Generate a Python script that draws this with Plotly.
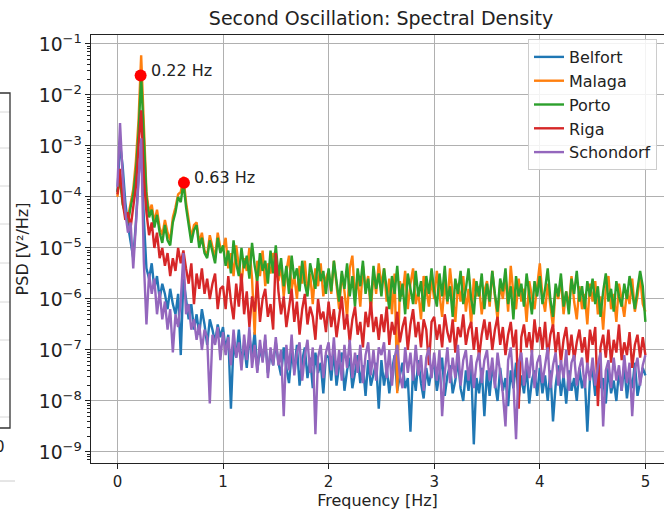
import math
import plotly.graph_objects as go

# Frequency axis: 0 .. 5 Hz, step 0.025 Hz (201 bins)
freq_step = 0.025
n_bins = 201
freqs = [round(i * freq_step, 4) for i in range(n_bins)]

series_names = ["Belfort", "Malaga", "Porto", "Riga", "Schondorf"]
series_colors = ["#1f77b4", "#ff7f0e", "#2ca02c", "#d62728", "#9467bd"]

# log10(PSD [V^2/Hz])
belfort_log10 = [
    -3.90, -2.95, -3.40, -4.10, -4.55, -4.90, -5.20, -4.50, -3.60, -3.00, -4.40, -5.40, -5.60, -5.30, -5.80, -5.55, -6.00, -5.70, -5.90, -6.20,
    -5.80, -6.10, -6.30, -5.90, -7.10, -5.60, -6.00, -6.40, -6.10, -6.60, -6.30, -6.70, -6.20, -6.50, -6.90, -6.40, -6.60, -6.85, -6.50, -6.75,
    -6.55, -7.00, -6.70, -8.15, -6.85, -7.15, -6.60, -7.25, -6.90, -7.35, -6.75, -7.10, -6.65, -7.40, -6.95, -7.20, -6.80, -7.45, -7.05, -7.30,
    -6.85, -7.25, -7.50, -6.95, -7.35, -7.65, -7.05, -7.40, -6.90, -7.70, -7.20, -6.95, -7.55, -7.15, -7.75, -7.05, -7.45, -7.25, -7.85, -7.10,
    -7.15, -7.60, -7.00, -7.70, -7.30, -7.05, -7.80, -7.40, -7.15, -7.75, -7.45, -7.10, -7.65, -7.30, -7.90, -7.20, -7.70, -7.45, -7.25, -8.15,
    -7.20, -7.70, -7.35, -7.85, -7.40, -7.10, -7.80, -7.50, -7.25, -7.75, -7.55, -8.60, -7.35, -7.80, -7.20, -7.65, -7.95, -7.35, -7.70, -7.40,
    -7.25, -7.80, -7.45, -7.15, -7.90, -7.50, -7.30, -7.85, -7.60, -7.20, -7.75, -8.00, -7.40, -7.80, -7.30, -8.85, -7.55, -7.85, -7.35, -8.30,
    -7.40, -7.90, -7.30, -7.70, -8.00, -7.35, -7.80, -7.55, -8.10, -7.40, -7.75, -7.25, -7.95, -7.50, -7.85, -7.35, -8.05, -7.60, -7.40, -7.90,
    -7.35, -7.85, -7.50, -8.00, -7.40, -8.40, -7.70, -7.30, -7.90, -7.50, -8.05, -7.40, -7.80, -7.55, -8.00, -7.35, -7.75, -7.50, -8.60, -7.55,
    -7.40, -7.90, -7.30, -7.75, -7.55, -8.05, -7.35, -7.85, -7.60, -8.00, -7.40, -7.80, -7.30, -7.95, -7.50, -7.75, -7.25, -7.90, -7.60, -7.35,
    -7.50,
]

malaga_log10 = [
    -4.00, -3.55, -4.05, -4.30, -4.40, -4.10, -3.85, -3.30, -2.50, -1.22, -2.60, -3.90, -4.30, -4.15, -4.50, -4.25, -4.60, -4.75, -4.45, -4.70,
    -4.85, -4.40, -4.20, -3.95, -3.90, -3.60, -4.10, -4.50, -4.80, -4.55, -4.50, -4.90, -4.70, -5.05, -5.15, -4.75, -4.95, -5.20, -4.70, -5.00,
    -5.05, -4.80, -5.40, -5.10, -5.55, -4.95, -5.35, -5.70, -5.20, -5.45, -5.00, -5.60, -6.70, -5.25, -5.55, -5.05, -5.75, -5.30, -5.50, -5.10,
    -5.20, -5.65, -5.35, -5.95, -5.45, -5.15, -5.80, -5.55, -6.00, -5.35, -5.70, -5.25, -5.90, -5.50, -6.10, -5.40, -5.75, -5.30, -5.95, -5.60,
    -5.45, -5.90, -5.25, -5.70, -6.20, -5.50, -5.85, -6.35, -5.40, -5.15, -5.95, -5.60, -6.15, -5.35, -5.80, -5.55, -6.25, -5.45, -5.90, -5.30,
    -5.75, -5.40, -6.05, -5.60, -6.30, -5.50, -7.85, -5.65, -5.95, -5.45, -6.20, -5.70, -5.40, -6.10, -5.85, -6.40, -5.55, -5.80, -6.15, -5.60,
    -6.00, -5.45, -5.85, -6.35, -5.65, -6.10, -5.40, -5.90, -6.45, -5.70, -6.05, -5.55, -6.25, -5.80, -6.50, -5.60, -5.95, -5.75, -6.30, -5.85,
    -5.65, -6.15, -5.45, -5.95, -6.40, -5.70, -6.00, -5.55, -6.25, -5.35, -5.90, -6.20, -5.60, -6.05, -5.80, -6.45, -5.65, -5.95, -6.20, -5.75,
    -5.30, -5.95, -6.25, -5.70, -6.10, -6.55, -5.80, -6.00, -5.60, -6.30, -5.85, -6.15, -5.55, -6.05, -6.40, -5.75, -6.20, -5.90, -6.50, -5.70,
    -6.05, -5.65, -6.30, -5.95, -6.60, -5.80, -5.55, -6.20, -5.90, -6.45, -5.70, -6.05, -6.35, -5.85, -6.10, -5.60, -6.25, -5.95, -5.55, -6.10,
    -6.25,
]

porto_log10 = [
    -3.90, -3.65, -4.15, -4.35, -4.50, -4.20, -3.95, -3.50, -2.75, -1.62, -2.90, -4.00, -4.40, -4.25, -4.60, -4.35, -4.70, -4.90, -4.55, -4.85,
    -4.95, -4.50, -4.30, -4.00, -4.10, -3.72, -4.20, -4.60, -4.90, -4.65, -4.55, -5.00, -4.80, -5.10, -5.20, -4.85, -5.05, -5.30, -4.80, -5.10,
    -4.95, -5.35, -5.05, -5.50, -4.85, -5.30, -5.55, -5.00, -5.40, -5.15, -5.60, -4.90, -5.35, -5.65, -5.10, -5.45, -5.25, -5.70, -5.05, -5.50,
    -4.95, -5.55, -5.20, -5.75, -5.35, -5.90, -5.15, -5.60, -5.40, -5.85, -5.25, -5.70, -5.95, -5.30, -5.55, -5.80, -5.20, -5.65, -5.45, -5.90,
    -5.40, -5.85, -5.25, -5.70, -6.05, -5.45, -5.80, -5.30, -5.95, -5.55, -6.15, -5.40, -5.75, -5.25, -5.90, -5.60, -6.10, -5.35, -5.80, -5.50,
    -5.95, -5.40, -5.80, -6.20, -5.55, -5.90, -5.35, -6.05, -5.70, -6.30, -5.50, -5.85, -6.10, -5.45, -5.95, -5.65, -6.25, -5.55, -5.90, -5.40,
    -5.85, -6.15, -5.50, -5.95, -5.35, -6.05, -5.75, -6.35, -5.60, -5.90, -5.45, -6.10, -5.80, -5.40, -6.00, -6.30, -5.65, -5.95, -5.50, -6.20,
    -5.70, -6.05, -5.45, -5.90, -6.25, -5.60, -5.85, -5.40, -6.10, -5.75, -6.40, -5.55, -5.95, -5.70, -6.15, -5.50, -5.85, -6.30, -5.65, -5.95,
    -5.55, -6.10, -5.80, -5.40, -6.00, -6.35, -5.70, -5.95, -5.50, -6.15, -5.85, -6.30, -5.60, -5.90, -5.45, -6.05, -5.75, -6.20, -5.65, -5.95,
    -5.60, -6.10, -5.75, -6.35, -5.85, -5.50, -6.05, -5.80, -6.25, -5.65, -5.95, -6.15, -5.70, -6.00, -5.55, -5.90, -6.20, -5.80, -5.45, -5.75,
    -6.45,
]

riga_log10 = [
    -3.95, -3.45, -4.10, -4.45, -4.30, -4.60, -4.20, -3.80, -3.00, -2.30, -3.60, -4.30, -4.75, -4.50, -5.00, -4.70, -5.20, -5.00, -5.35, -5.10,
    -5.55, -5.20, -5.45, -5.00, -5.30, -5.05, -5.40, -5.70, -5.30, -6.10, -5.50, -5.80, -5.40, -5.90, -5.60, -6.00, -5.70, -5.50, -6.20, -5.80,
    -5.75, -6.20, -5.55, -6.05, -6.40, -5.70, -6.15, -5.50, -6.30, -5.85, -6.55, -5.95, -6.25, -5.65, -6.45, -6.00, -5.80, -6.35, -6.10, -6.60,
    -5.10, -5.85, -6.30, -5.95, -6.55, -6.15, -5.80, -6.45, -6.05, -6.70, -6.20, -5.90, -6.50, -6.15, -6.35, -6.80, -6.00, -6.40, -6.25, -6.65,
    -6.05, -6.55, -6.20, -6.75, -6.35, -5.95, -6.60, -6.30, -6.85, -6.40, -6.15, -6.70, -6.45, -6.95, -6.25, -6.55, -6.05, -6.65, -6.35, -6.80,
    -6.30, -6.65, -6.15, -6.90, -6.45, -6.70, -6.25, -6.85, -6.55, -6.35, -7.00, -6.50, -6.20, -6.75, -6.45, -6.95, -6.40, -6.60, -7.30, -6.45,
    -6.35, -6.80, -6.50, -6.95, -6.30, -6.65, -6.85, -6.40, -7.05, -6.55, -6.75, -6.30, -6.90, -6.60, -6.45, -7.00, -6.55, -7.15, -6.70, -6.40,
    -6.80, -6.45, -7.00, -6.60, -6.35, -6.90, -6.55, -7.10, -6.70, -6.45, -6.95, -6.60, -8.15, -6.75, -6.50, -6.95, -6.65, -7.05, -6.40, -6.85,
    -6.55, -7.00, -6.45, -7.15, -6.70, -6.50, -7.05, -6.65, -7.25, -6.80, -6.55, -7.10, -6.70, -7.20, -6.85, -6.60, -7.05, -6.75, -7.30, -6.60,
    -6.90, -6.55, -8.10, -6.95, -6.70, -7.15, -6.60, -7.25, -6.80, -7.05, -6.50, -7.20, -6.85, -7.10, -6.65, -7.35, -6.90, -6.70, -7.15, -6.75,
    -7.10,
]

schondorf_log10 = [
    -3.80, -2.55, -3.60, -4.30, -4.70, -4.50, -5.40, -4.50, -3.50, -2.85, -5.25, -6.50, -5.50, -5.90, -5.60, -6.30, -5.85, -6.40, -6.05, -6.60,
    -6.20, -7.05, -6.30, -6.55, -6.05, -5.10, -6.30, -6.10, -6.60, -6.40, -6.80, -6.50, -7.00, -6.60, -6.75, -8.05, -6.70, -6.90, -6.55, -7.20,
    -6.65, -7.10, -6.75, -7.30, -6.60, -7.15, -6.85, -7.40, -6.70, -7.20, -6.55, -7.35, -6.90, -7.45, -6.80, -7.25, -6.70, -7.55, -6.95, -7.30,
    -6.75, -7.30, -7.00, -8.30, -6.90, -7.40, -6.70, -7.50, -7.05, -6.85, -7.60, -7.10, -6.80, -7.45, -6.95, -8.65, -7.15, -6.90, -7.55, -7.05,
    -6.85, -7.40, -6.75, -7.50, -7.00, -7.60, -6.90, -7.35, -6.80, -7.55, -7.05, -7.45, -6.90, -7.65, -7.10, -6.85, -7.50, -7.00, -7.60, -6.95,
    -7.10, -6.85, -7.55, -7.00, -7.70, -7.15, -6.90, -7.50, -7.75, -6.95, -7.45, -7.05, -7.60, -6.90, -7.50, -7.10, -7.80, -7.15, -6.95, -7.55,
    -7.05, -7.60, -7.00, -8.30, -7.45, -6.95, -7.65, -7.15, -7.55, -6.90, -7.70, -7.20, -7.00, -7.60, -7.10, -7.75, -7.25, -7.05, -7.65, -7.20,
    -7.00, -7.60, -7.15, -7.75, -7.05, -7.50, -7.85, -8.50, -7.20, -6.95, -7.65, -8.75, -7.25, -7.05, -7.70, -7.15, -7.55, -7.00, -7.75, -7.25,
    -7.10, -7.65, -7.25, -6.95, -7.75, -7.30, -7.05, -7.70, -7.20, -7.55, -7.00, -7.80, -7.25, -7.10, -7.70, -7.35, -7.15, -7.75, -7.25, -7.60,
    -7.15, -7.70, -7.30, -7.05, -8.50, -7.40, -7.20, -7.75, -7.15, -7.60, -7.30, -7.80, -7.10, -7.65, -7.25, -8.30, -7.40, -7.15, -7.70, -7.30,
    -7.10,
]

series_log10 = [belfort_log10, malaga_log10, porto_log10, riga_log10, schondorf_log10]

# Marked peaks
peak_freqs = [0.22, 0.63]
peak_psd = [0.024, 1.9e-4]
peak_labels = ["0.22 Hz", "0.63 Hz"]

FONT = "DejaVu Sans"
W, H = 664, 514
ML, MR, MT, MB = 91, 0, 35, 51
PW, PH = W - ML - MR, H - MT - MB

fig = go.Figure()
for name, color, logs in zip(series_names, series_colors, series_log10):
    fig.add_trace(go.Scatter(
        x=freqs, y=[10 ** v for v in logs], mode="lines", name=name,
        legendgroup=name, line=dict(color=color, width=2.4),
    ))

fig.add_trace(go.Scatter(
    x=peak_freqs, y=peak_psd, mode="markers", showlegend=False,
    marker=dict(color="red", size=12),
))

for f, p, lab in zip(peak_freqs, peak_psd, peak_labels):
    fig.add_annotation(x=f, y=math.log10(p), xref="x", yref="y", text=lab, showarrow=False,
                       xanchor="left", yanchor="middle", xshift=8, yshift=5,
                       font=dict(family=FONT, size=16, color="#222"))

# Partial neighbouring panel visible at the left edge (drawn in paper coords)
def px_x(px):
    return (px - ML) / PW

def px_y(py):
    return (H - MB - py) / PH

shapes = []
for gy in [112, 148, 186, 224, 263, 302, 340, 379, 417]:
    shapes.append(dict(type="line", xref="paper", yref="paper",
                       x0=px_x(-2), x1=px_x(10), y0=px_y(gy), y1=px_y(gy),
                       line=dict(color="#d8d8d8", width=1)))
shapes.append(dict(type="rect", xref="paper", yref="paper",
                   x0=px_x(-6), x1=px_x(10), y0=px_y(428), y1=px_y(93),
                   line=dict(color="#333", width=1.3)))
shapes.append(dict(type="line", xref="paper", yref="paper",
                   x0=px_x(0), x1=px_x(15), y0=px_y(481), y1=px_y(481),
                   line=dict(color="#cccccc", width=1)))
fig.add_annotation(xref="paper", yref="paper", x=px_x(7), y=px_y(447),
                   text="0", showarrow=False, xanchor="right", yanchor="middle",
                   font=dict(family=FONT, size=15, color="#222"))

fig.update_layout(
    width=W, height=H,
    margin=dict(l=ML, r=MR, t=MT, b=MB, autoexpand=False),
    paper_bgcolor="white", plot_bgcolor="white",
    font=dict(family=FONT, size=16, color="#222"),
    title=dict(text="Second Oscillation: Spectral Density", x=381 / W, xanchor="center",
               y=1 - 18 / H, yanchor="middle", font=dict(family=FONT, size=19, color="#222")),
    shapes=shapes,
    showlegend=True,
    legend=dict(x=px_x(528), y=px_y(39), xanchor="left", yanchor="top",
                bgcolor="rgba(255,255,255,0.85)", bordercolor="#cccccc", borderwidth=1,
                font=dict(family=FONT, size=16, color="#222"),
                traceorder="grouped", tracegroupgap=0),
    xaxis=dict(
        range=[-0.25, -0.25 + PW / 105.6], tickmode="linear", tick0=0, dtick=1,
        automargin=False,
        showgrid=True, gridcolor="#b0b0b0", gridwidth=1,
        showline=True, linecolor="#222", linewidth=1.2, mirror=True,
        ticks="outside", ticklen=5, tickcolor="#222",
        tickfont=dict(family=FONT, size=15, color="#222"),
        zeroline=False,
        title=dict(text="Frequency [Hz]", font=dict(family=FONT, size=16, color="#222"), standoff=3),
    ),
    yaxis=dict(
        type="log", range=[-9.216, -0.824], dtick=1, exponentformat="power",
        automargin=False,
        showgrid=True, gridcolor="#b0b0b0", gridwidth=1,
        showline=True, linecolor="#222", linewidth=1.2, mirror=False,
        ticks="outside", ticklen=5, tickcolor="#222",
        tickfont=dict(family=FONT, size=15, color="#222"),
        minor=dict(ticks="outside", ticklen=3, tickcolor="#222", dtick="D1", showgrid=False),
        zeroline=False,
        title=dict(text="PSD [V²/Hz]", font=dict(family=FONT, size=16, color="#222"), standoff=6),
    ),
)

fig.write_html("out.html", config={"displayModeBar": False},
               post_script="document.body.style.margin='0px';")
